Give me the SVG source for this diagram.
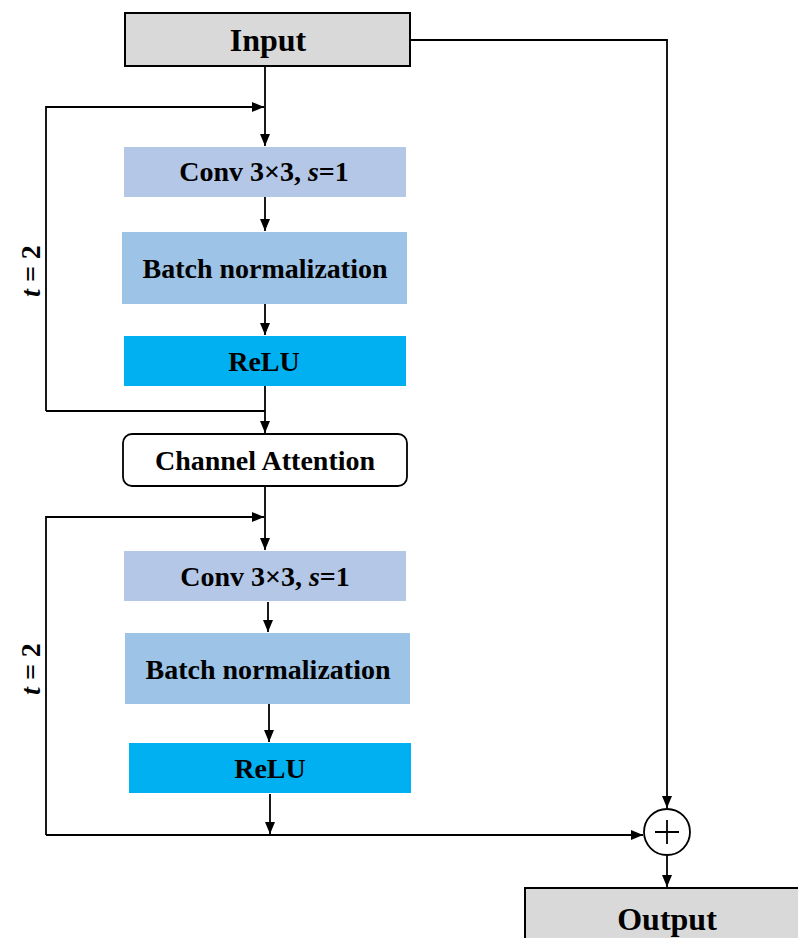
<svg xmlns="http://www.w3.org/2000/svg" width="798" height="938" viewBox="0 0 798 938">
  <style>
    .lbl { font-family: "Liberation Serif", "Times New Roman", serif; font-weight: bold; fill: #000; text-anchor: middle; font-size: 28px; }
    .big { font-size: 32px; }
    .wire { fill: none; stroke: #000; stroke-width: 1.8; }
    .io { fill: #d9d9d9; stroke: #000; stroke-width: 2; }
  </style>
  <defs>
    <marker id="arr" viewBox="0 0 12 10" refX="12" refY="5" markerWidth="12" markerHeight="10" markerUnits="userSpaceOnUse" orient="auto">
      <path d="M0,0 L12,5 L0,10 z" fill="#000"/>
    </marker>
  </defs>

  <!-- connectors -->
  <g id="connectors">
    <path class="wire" d="M265,66 V146" marker-end="url(#arr)"/>
    <path class="wire" d="M46,411 V107 H264" marker-end="url(#arr)"/>
    <path class="wire" d="M265,197 V231" marker-end="url(#arr)"/>
    <path class="wire" d="M265,304 V335" marker-end="url(#arr)"/>
    <path class="wire" d="M265,386 V433" marker-end="url(#arr)"/>
    <path class="wire" d="M46,411 H265"/>
    <path class="wire" d="M265,486 V550" marker-end="url(#arr)"/>
    <path class="wire" d="M46,835 V517 H264" marker-end="url(#arr)"/>
    <path class="wire" d="M268,602 V632" marker-end="url(#arr)"/>
    <path class="wire" d="M269,704 V742" marker-end="url(#arr)"/>
    <path class="wire" d="M270,794 V834" marker-end="url(#arr)"/>
    <path class="wire" d="M46,835 H643" marker-end="url(#arr)"/>
    <path class="wire" d="M410,40 H667 V808" marker-end="url(#arr)"/>
    <path class="wire" d="M667,856 V887" marker-end="url(#arr)"/>
  </g>

  <g id="input">
    <rect class="io" x="125" y="13" width="285" height="53"/>
    <text class="lbl big" x="268" y="51">Input</text>
  </g>

  <g id="conv1">
    <rect x="124" y="147" width="282" height="50" fill="#b4c7e7"/>
    <text class="lbl" x="264" y="181">Conv 3×3, <tspan font-style="italic">s</tspan>=1</text>
  </g>
  <g id="bn1">
    <rect x="122" y="232" width="285" height="72" fill="#9dc3e6"/>
    <text class="lbl" x="265" y="278">Batch normalization</text>
  </g>
  <g id="relu1">
    <rect x="124" y="336" width="282" height="50" fill="#00b0f0"/>
    <text class="lbl" x="264" y="371">ReLU</text>
  </g>

  <g id="channel-attention">
    <rect x="123" y="434" width="284" height="52" rx="9" fill="#fff" stroke="#000" stroke-width="1.8"/>
    <text class="lbl" x="265" y="470">Channel Attention</text>
  </g>

  <g id="conv2">
    <rect x="124" y="551" width="282" height="50" fill="#b4c7e7"/>
    <text class="lbl" x="265" y="586">Conv 3×3, <tspan font-style="italic">s</tspan>=1</text>
  </g>
  <g id="bn2">
    <rect x="125" y="633" width="285" height="71" fill="#9dc3e6"/>
    <text class="lbl" x="268" y="679">Batch normalization</text>
  </g>
  <g id="relu2">
    <rect x="129" y="743" width="282" height="50" fill="#00b0f0"/>
    <text class="lbl" x="270" y="778">ReLU</text>
  </g>

  <g id="loop1-label">
    <text class="lbl" transform="translate(40,271) rotate(-90)"><tspan font-style="italic">t</tspan> = 2</text>
  </g>
  <g id="loop2-label">
    <text class="lbl" transform="translate(40,669) rotate(-90)"><tspan font-style="italic">t</tspan> = 2</text>
  </g>

  <g id="sum">
    <circle cx="667" cy="832" r="23" fill="#fff" stroke="#000" stroke-width="1.8"/>
    <path d="M655,832 H679 M667,820 V844" stroke="#000" stroke-width="1.8"/>
  </g>

  <g id="output">
    <rect class="io" x="525" y="888" width="290" height="60"/>
    <text class="lbl big" x="667" y="930">Output</text>
  </g>
</svg>
